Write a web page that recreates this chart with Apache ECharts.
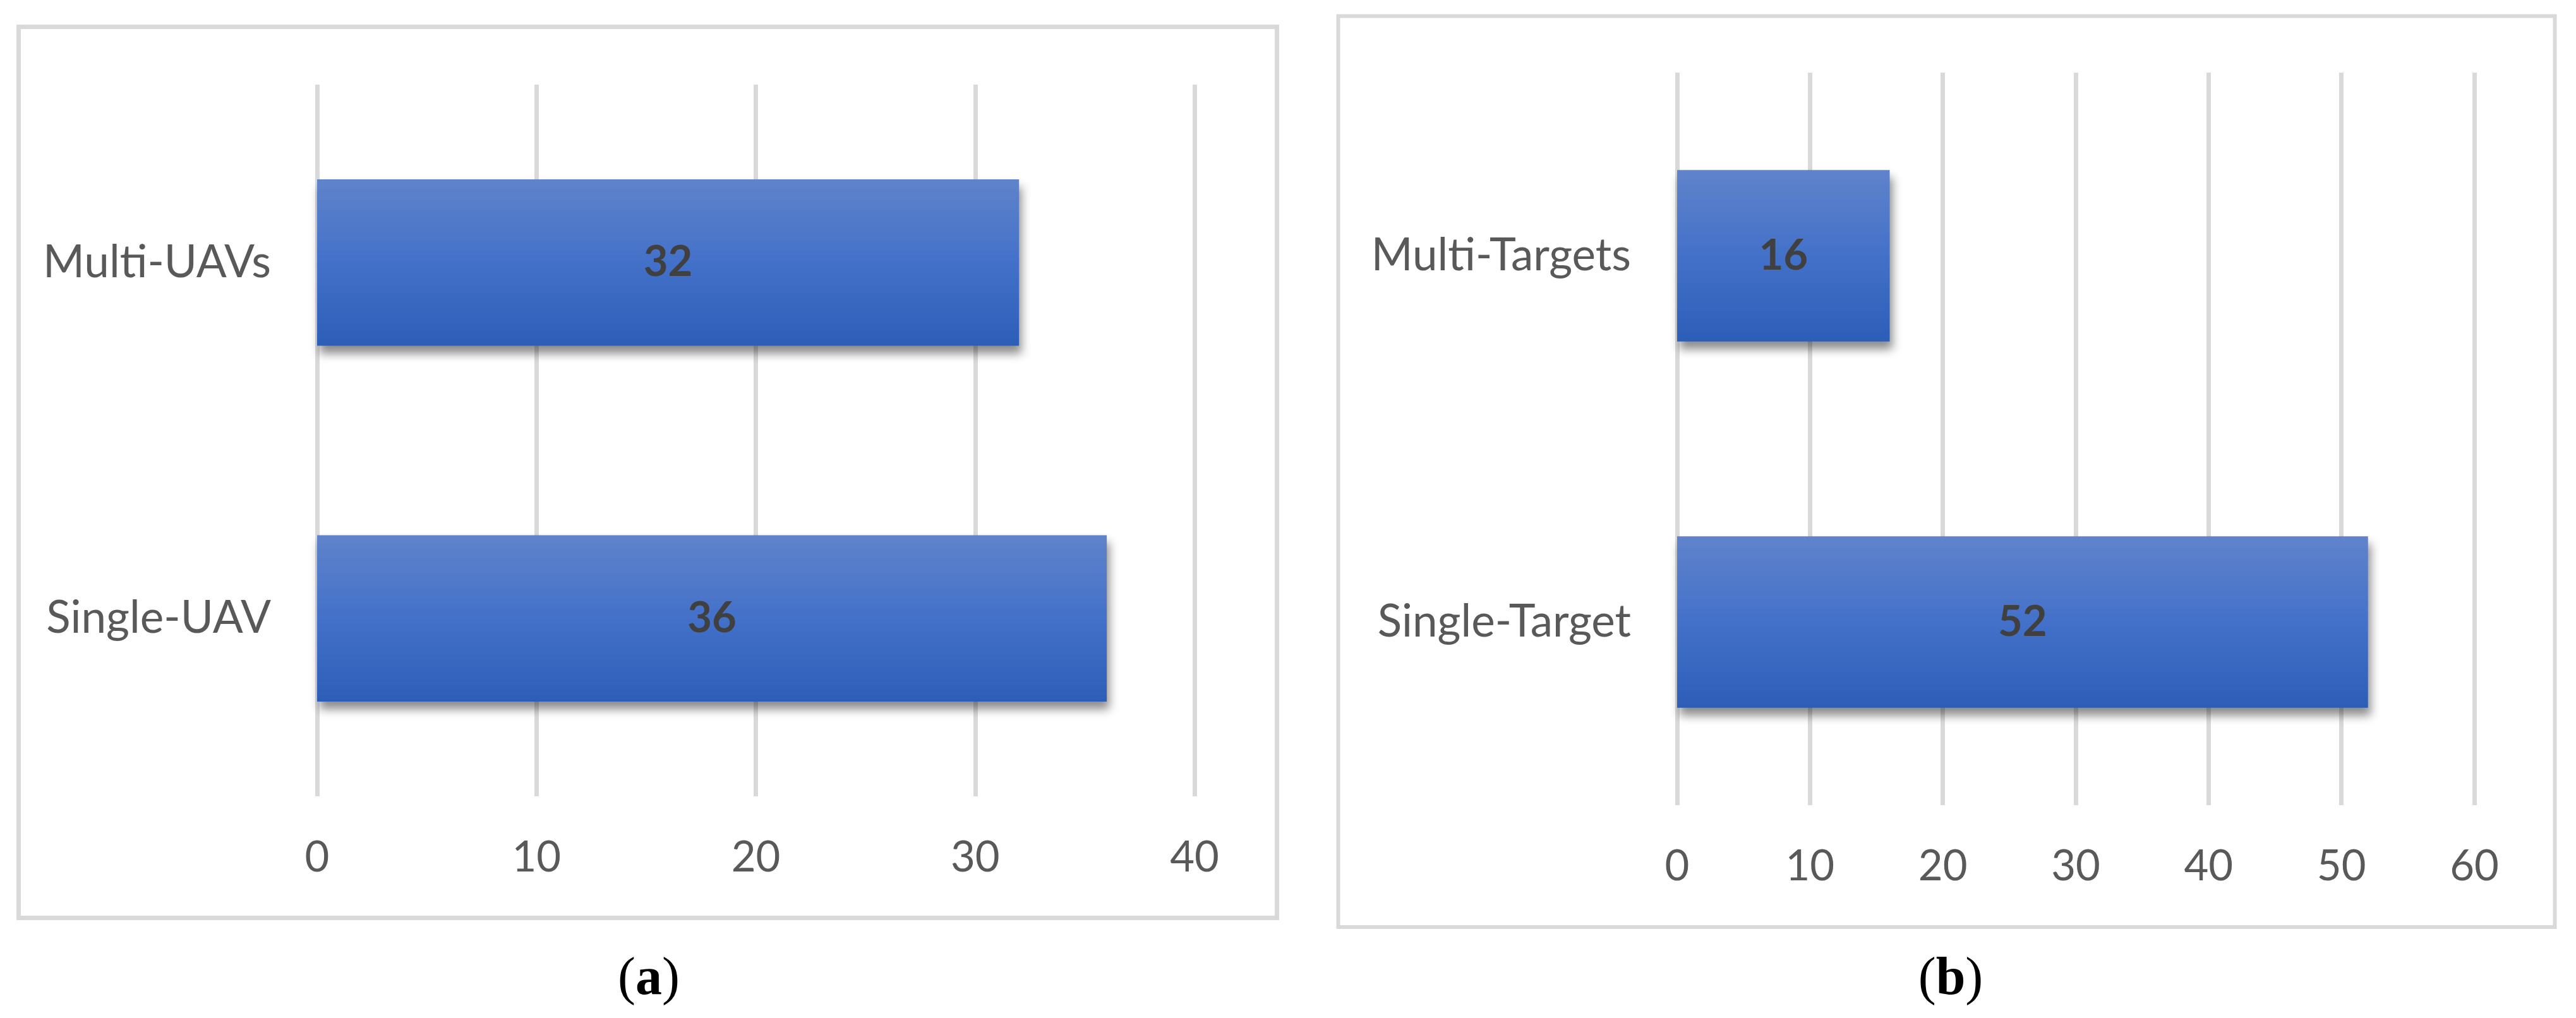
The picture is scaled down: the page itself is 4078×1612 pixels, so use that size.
<!DOCTYPE html>
<html>
<head>
<meta charset="utf-8">
<script src="https://cdn.jsdelivr.net/npm/echarts@6/dist/echarts.min.js"></script>
<style>
html,body{margin:0;padding:0;background:#fff;}
#c{width:4078px;height:1612px;}
</style>
</head>
<body>
<div id="c"></div>
<script>
// ---- data ----
const categoriesA = ['Single-UAV', 'Multi-UAVs'];
const valuesA = [36, 32];
const categoriesB = ['Single-Target', 'Multi-Targets'];
const valuesB = [52, 16];
const axisMaxA = 40;
const axisMaxB = 60;
const tickStep = 10;
const captionA = 'a';
const captionB = 'b';

const FONT = 'Lato';
const LABEL_COLOR = '#595959';
const GRID_COLOR = '#d9d9d9';

const barGradient = new echarts.graphic.LinearGradient(0, 0, 0, 1, [
  { offset: 0, color: '#6083CB' },
  { offset: 0.5, color: '#4371C9' },
  { offset: 1, color: '#2D5EB7' }
]);

function valueAxis(gridIndex, max) {
  return {
    type: 'value', gridIndex, min: 0, max, interval: tickStep,
    axisLine: { show: false }, axisTick: { show: false },
    splitLine: { show: true, lineStyle: { color: GRID_COLOR, width: 7 } },
    axisLabel: { color: LABEL_COLOR, fontFamily: FONT, fontSize: 67, margin: 64 }
  };
}
function catAxis(gridIndex, cats) {
  return {
    type: 'category', gridIndex, data: cats,
    axisLine: { show: false }, axisTick: { show: false },
    splitLine: { show: false },
    axisLabel: { color: LABEL_COLOR, fontFamily: FONT, fontSize: 71, margin: 73 }
  };
}
function barSeries(idx, vals) {
  return {
    type: 'bar', xAxisIndex: idx, yAxisIndex: idx, data: vals,
    barWidth: '46.8%',
    itemStyle: {
      color: barGradient,
      shadowColor: 'rgba(0,0,0,0.45)', shadowBlur: 14,
      shadowOffsetX: 4, shadowOffsetY: 12
    },
    label: {
      show: true, position: 'inside', color: '#404040',
      fontFamily: FONT, fontWeight: 'bold', fontSize: 67
    },
    silent: true, animation: false
  };
}
function caption(x, y, letter) {
  return {
    type: 'text', x, y, silent: true,
    style: {
      text: '{p|(}{b|' + letter + '}{p|)}',
      align: 'center', verticalAlign: 'middle',
      rich: {
        p: { fontFamily: 'Liberation Serif', fontSize: 84, fill: '#000', fontWeight: 'normal' },
        b: { fontFamily: 'Liberation Serif', fontSize: 84, fill: '#000', fontWeight: 'bold' }
      }
    }
  };
}

const chart = echarts.init(document.getElementById('c'), null, { renderer: 'canvas' });
chart.setOption({
  backgroundColor: '#ffffff',
  animation: false,
  grid: [
    { left: 502, right: 2187, top: 134, bottom: 351 },
    { left: 2655, right: 161, top: 115, bottom: 337 }
  ],
  xAxis: [valueAxis(0, axisMaxA), valueAxis(1, axisMaxB)],
  yAxis: [catAxis(0, categoriesA), catAxis(1, categoriesB)],
  series: [barSeries(0, valuesA), barSeries(1, valuesB)],
  graphic: [
    { type: 'rect', silent: true, z: -1,
      shape: { x: 29.5, y: 42.5, width: 1992, height: 1411 },
      style: { fill: 'none', stroke: GRID_COLOR, lineWidth: 7 } },
    { type: 'rect', silent: true, z: -1,
      shape: { x: 2118.5, y: 25.5, width: 1926, height: 1442.5 },
      style: { fill: 'none', stroke: GRID_COLOR, lineWidth: 6 } },
    caption(1027, 1552, captionA),
    caption(3088, 1552, captionB)
  ]
});
</script>
</body>
</html>
